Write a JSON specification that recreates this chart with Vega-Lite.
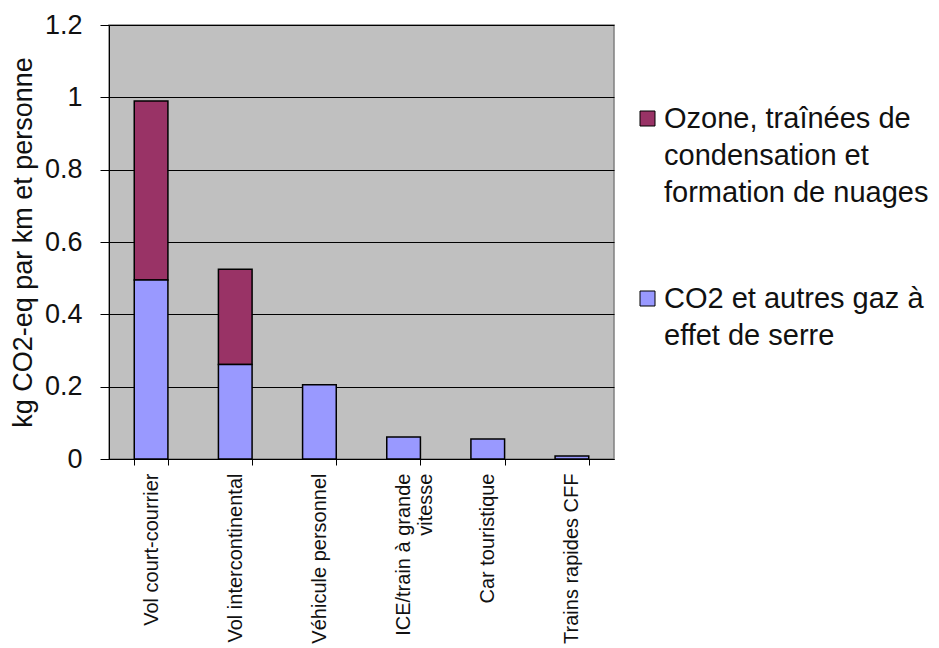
{
  "$schema": "https://vega.github.io/schema/vega-lite/v6.json",
  "autosize": {"type": "none"},
  "width": 505,
  "height": 434,
  "padding": {"left": 109, "top": 25, "right": 325, "bottom": 189},
  "background": "white",
  "config": {
    "font": "Liberation Sans",
    "view": {"fill": "#C0C0C0", "stroke": "#808080", "strokeWidth": 1.5}
  },
  "data": {
    "values": [
      {"transport": "Vol court-courrier", "serie": "Ozone, traînées de condensation et formation de nuages", "valeur": 0.495},
      {"transport": "Vol court-courrier", "serie": "CO2 et autres gaz à effet de serre", "valeur": 0.495},
      {"transport": "Vol intercontinental", "serie": "Ozone, traînées de condensation et formation de nuages", "valeur": 0.264},
      {"transport": "Vol intercontinental", "serie": "CO2 et autres gaz à effet de serre", "valeur": 0.261},
      {"transport": "Véhicule personnel", "serie": "CO2 et autres gaz à effet de serre", "valeur": 0.205},
      {"transport": "ICE/train à grande vitesse", "serie": "CO2 et autres gaz à effet de serre", "valeur": 0.061},
      {"transport": "Car touristique", "serie": "CO2 et autres gaz à effet de serre", "valeur": 0.055},
      {"transport": "Trains rapides CFF", "serie": "CO2 et autres gaz à effet de serre", "valeur": 0.008}
    ]
  },
  "mark": {"type": "bar", "stroke": "#000", "strokeWidth": 1.5},
  "encoding": {
    "x": {
      "field": "transport",
      "type": "nominal",
      "sort": null,
      "scale": {"paddingInner": 0.6, "paddingOuter": 0.3},
      "axis": {
        "title": null,
        "labelAngle": -90,
        "labelFontSize": 20,
        "labelColor": "#111",
        "labelPadding": 8,
        "labelLimit": 300,
        "labelLineHeight": 22,
        "tickSize": 6,
        "tickColor": "#000",
        "tickBand": "extent",
        "domainColor": "#000",
        "labelExpr": "datum.label == 'ICE/train à grande vitesse' ? ['ICE/train à grande', 'vitesse'] : datum.label"
      }
    },
    "y": {
      "field": "valeur",
      "type": "quantitative",
      "stack": "zero",
      "scale": {"domain": [0, 1.2], "nice": false},
      "axis": {
        "values": [0, 0.2, 0.4, 0.6, 0.8, 1, 1.2],
        "format": "~g",
        "title": "kg CO2-eq par km et personne",
        "titleFontSize": 27,
        "titleFontWeight": "normal",
        "titleColor": "#111",
        "titlePadding": 7,
        "labelFontSize": 27,
        "labelColor": "#111",
        "tickSize": 9,
        "labelPadding": 18,
        "tickColor": "#000",
        "domainColor": "#000",
        "gridColor": "#000",
        "gridOpacity": 1,
        "gridWidth": 1
      }
    },
    "color": {
      "field": "serie",
      "type": "nominal",
      "scale": {
        "domain": ["Ozone, traînées de condensation et formation de nuages", "CO2 et autres gaz à effet de serre"],
        "range": ["#993366", "#9999FF"]
      },
      "legend": {
        "title": null,
        "orient": "none",
        "legendX": 524,
        "legendY": 79,
        "labelFontSize": 29,
        "labelColor": "#111",
        "labelLimit": 400,
        "labelOffset": 2,
        "symbolType": "square",
        "symbolSize": 225,
        "symbolStrokeColor": "#000",
        "symbolStrokeWidth": 1,
        "symbolOpacity": 1,
        "rowPadding": 76,
        "encode": {"labels": {"update": {"lineHeight": {"value": 37}}}},
        "labelExpr": "datum.label == 'CO2 et autres gaz à effet de serre' ? ['CO2 et autres gaz à', 'effet de serre'] : ['Ozone, traînées de', 'condensation et', 'formation de nuages']"
      }
    },
    "order": {"field": "serie", "sort": "ascending"}
  }
}
